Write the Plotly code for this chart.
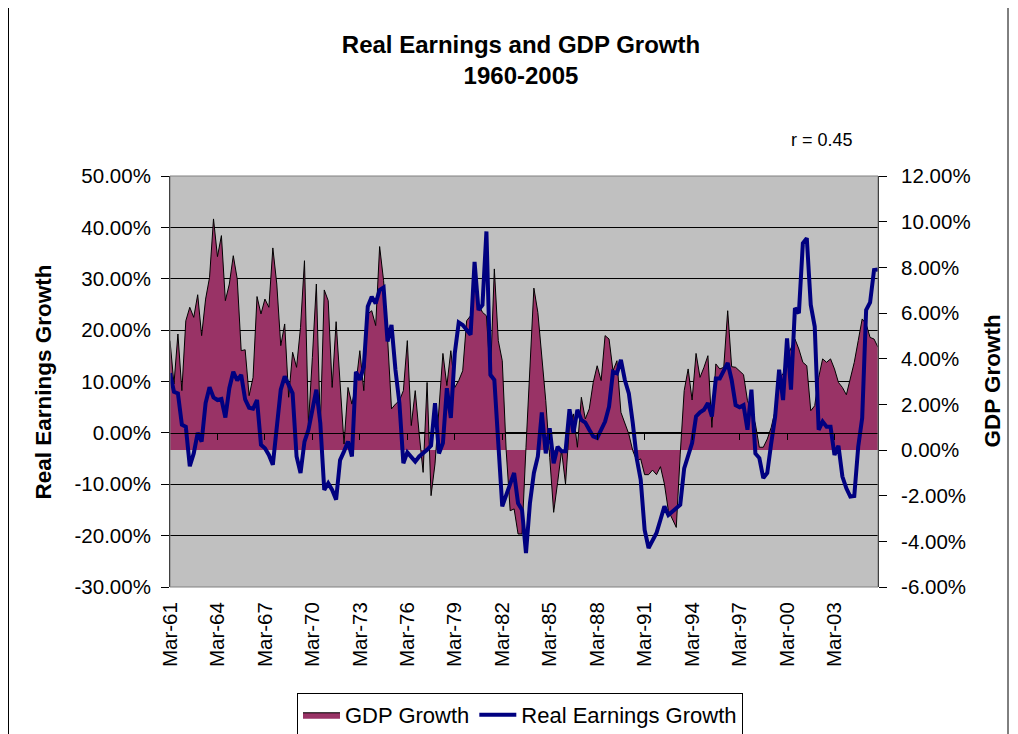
import plotly.graph_objects as go

# Quarterly index positions (Mar-61 .. Dec-05)
quarters = list(range(180))

# GDP Growth (%), right axis
gdp_growth = [
    4.79, 2.89, 5.08, 2.60, 5.66, 6.25, 5.81, 6.80, 5.01, 6.61,
    7.56, 10.12, 8.47, 9.39, 6.54, 7.27, 8.51, 7.49, 4.35, 4.39,
    2.38, 3.18, 6.72, 5.96, 6.61, 6.25, 8.85, 7.27, 4.57, 5.52,
    2.31, 4.28, 3.62, 5.37, 8.29, 1.14, 4.06, 7.27, 0.99, 7.01,
    6.54, 2.74, 5.62, 2.74, 0.26, 2.74, 2.01, 2.89, 4.35, 2.60,
    5.96, 6.10, 5.45, 8.91, 7.42, 4.93, 1.80, 2.01, 2.16, 2.60,
    4.79, 1.07, 2.60, 0.70, -0.98, 2.96, -2.00, -0.61, 2.01, 4.23,
    2.82, 4.35, 2.74, 3.04, 3.47, 5.66, 5.88, 7.85, 6.39, 6.03,
    5.88, 3.18, 7.93, 4.79, 3.91, -0.03, -2.66, -2.58, -3.68, -3.68,
    0.12, 3.62, 7.09, 6.03, 4.06, 2.16, -0.32, -2.73, -1.42, -0.03,
    -1.49, 1.14, 1.58, 0.12, 2.31, 1.36, 1.80, 2.96, 3.69, 3.04,
    5.01, 4.86, 3.47, 3.91, 1.65, 1.14, 0.70, -0.03, -0.47, -0.39,
    -1.08, -1.08, -0.88, -1.08, -0.73, -1.49, -2.66, -3.02, -3.39, -0.18,
    2.60, 3.55, 2.19, 4.23, 3.18, 3.62, 4.13, 0.99, 3.77, 3.55,
    3.62, 6.10, 3.65, 3.62, 3.47, 3.30, 2.16, 1.72, 1.14, 0.12,
    0.12, 0.48, 0.99, 1.72, 3.18, 3.33, 4.06, 4.50, 4.86, 4.42,
    3.84, 3.69, 1.72, 1.94, 3.18, 3.99, 3.84, 3.99, 3.55, 2.96,
    2.74, 2.42, 3.18, 3.84, 4.79, 5.74, 5.52, 4.93, 4.86, 4.50,
]

# Real Earnings Growth (%), left axis
earnings_growth = [
    11.6, 8.0, 7.7, 1.6, 1.2, -6.5, -4.0, 0.0, -1.7, 5.8,
    8.9, 6.9, 6.4, 6.6, 3.0, 8.7, 11.9, 10.2, 11.3, 6.5,
    4.9, 4.7, 6.4, -2.3, -3.0, -4.3, -6.2, 1.9, 8.4, 11.0,
    9.3, 7.7, -4.6, -7.8, -1.7, 0.6, 4.5, 8.4, 1.9, -11.1,
    -9.8, -11.1, -13.0, -5.3, -3.6, -1.7, -4.6, 11.9, 10.3, 12.9,
    24.6, 26.5, 25.2, 27.8, 28.3, 17.8, 21.0, 12.3, 5.8, -5.9,
    -3.8, -4.6, -5.6, -4.6, -4.0, -3.3, -2.5, 5.8, -4.0, -2.0,
    8.7, 2.9, 15.5, 21.5, 21.0, 20.0, 19.1, 33.3, 23.9, 24.9,
    39.2, 11.3, 10.3, -2.0, -14.3, -12.1, -10.1, -7.8, -13.7, -15.0,
    -23.4, -13.7, -7.8, -4.6, 4.0, -4.0, 0.9, -5.9, -2.7, -3.6,
    -3.6, 4.6, 0.0, 4.5, 2.5, 2.0, 0.6, -0.7, -1.0, 0.6,
    2.2, 5.1, 11.9, 11.6, 14.2, 10.3, 7.7, 1.9, -5.0, -9.1,
    -18.9, -22.4, -20.8, -19.5, -16.9, -14.3, -16.0, -15.3, -14.7, -14.0,
    -6.9, -4.6, -2.0, 3.2, 4.0, 4.5, 5.8, 3.2, 10.6, 10.6,
    12.3, 13.6, 10.3, 5.4, 5.0, 5.4, 0.6, 8.4, -4.0, -4.9,
    -8.8, -7.8, -2.0, 3.2, 12.3, 6.4, 18.4, 8.4, 24.3, 23.3,
    36.9, 37.9, 24.9, 20.7, 0.6, 2.2, 1.2, 1.2, -4.3, -2.5,
    -8.5, -10.8, -12.4, -12.3, -2.7, 2.9, 23.9, 25.4, 31.7, 31.8,
]

x_tick_positions = [0, 12, 24, 36, 48, 60, 72, 84, 96, 108, 120, 132, 144, 156, 168]
x_tick_labels = ["Mar-61", "Mar-64", "Mar-67", "Mar-70", "Mar-73", "Mar-76", "Mar-79",
                 "Mar-82", "Mar-85", "Mar-88", "Mar-91", "Mar-94", "Mar-97", "Mar-00", "Mar-03"]

left_tick_values = [-30, -20, -10, 0, 10, 20, 30, 40, 50]
left_tick_labels = ["-30.00%", "-20.00%", "-10.00%", "0.00%", "10.00%", "20.00%",
                    "30.00%", "40.00%", "50.00%"]
right_tick_values = [-6, -4, -2, 0, 2, 4, 6, 8, 10, 12]
right_tick_labels = ["-6.00%", "-4.00%", "-2.00%", "0.00%", "2.00%", "4.00%",
                     "6.00%", "8.00%", "10.00%", "12.00%"]

FONT = "Liberation Sans, Arial, sans-serif"
OFF = 8  # page body margin of the browser
W, H = 1018 - OFF, 734 - OFF
L, R, T, B = 170 - OFF, 140, 176 - OFF, 147
PW, PH = W - L - R, H - T - B


def px_x(p):
    # page x pixel -> paper x
    return (p - OFF - L) / PW


def px_y(p):
    # page y pixel -> paper y
    return (OFF + H - B - p) / PH


fig = go.Figure()

fig.add_trace(go.Scatter(
    x=quarters, y=gdp_growth, name="GDP Growth",
    mode="lines", fill="tozeroy", fillcolor="#993366",
    line=dict(color="#000000", width=1),
    xaxis="x", yaxis="y",
))

fig.add_trace(go.Scatter(
    x=quarters, y=earnings_growth, name="Real Earnings Growth",
    mode="lines", line=dict(color="#000080", width=4),
    xaxis="x2", yaxis="y2",
))

zero_pos = (0 - left_tick_values[0]) / (left_tick_values[-1] - left_tick_values[0])

fig.update_layout(
    width=W, height=H,
    margin=dict(l=L, r=R, t=T, b=B, autoexpand=False),
    paper_bgcolor="#FFFFFF",
    plot_bgcolor="#C0C0C0",
    font=dict(family=FONT, size=20, color="#000000"),
    title=dict(
        text="<b>Real Earnings and GDP Growth</b><br><b>1960-2005</b>",
        font=dict(family=FONT, size=24, color="#000000"),
        xref="paper", x=px_x(521), xanchor="center",
        yref="container", y=1 - (52.5 - OFF) / H, yanchor="middle",
    ),
    xaxis=dict(
        range=[0, 179], tickmode="array", tickvals=x_tick_positions,
        ticktext=x_tick_labels, tickangle=-90, ticks="", showgrid=False,
        zeroline=False, showline=False, automargin=False,
        ticklabelstandoff=10,
        tickfont=dict(family=FONT, size=20.5),
    ),
    xaxis2=dict(
        range=[0, 179], overlaying="x", anchor="free", position=zero_pos,
        tickmode="array", tickvals=x_tick_positions[1:], ticks="outside",
        ticklen=6, tickcolor="#000000", showticklabels=False, showgrid=False,
        zeroline=False, showline=True, linecolor="#000000", linewidth=1,
    ),
    yaxis=dict(
        range=[right_tick_values[0], right_tick_values[-1]], side="right",
        tickmode="array", tickvals=right_tick_values, ticktext=right_tick_labels,
        ticks="outside", ticklen=8, tickcolor="#000000",
        showline=True, linecolor="#000000", linewidth=1,
        showgrid=False, zeroline=False, automargin=False,
        ticklabelstandoff=10,
        tickfont=dict(family=FONT, size=20.5),
    ),
    yaxis2=dict(
        range=[left_tick_values[0], left_tick_values[-1]], side="left",
        overlaying="y", anchor="x",
        tickmode="array", tickvals=left_tick_values, ticktext=left_tick_labels,
        ticks="outside", ticklen=8, tickcolor="#000000",
        showline=True, linecolor="#000000", linewidth=1,
        showgrid=True, gridcolor="#000000", gridwidth=1,
        zeroline=False, automargin=False,
        ticklabelstandoff=6,
        tickfont=dict(family=FONT, size=20.5),
    ),
    legend=dict(
        orientation="h", x=px_x(297), y=px_y(693), xanchor="left", yanchor="top",
        bordercolor="#000000", borderwidth=1, bgcolor="#FFFFFF",
        font=dict(family=FONT, size=22, color="#000000"),
        traceorder="normal", itemwidth=37,
    ),
    showlegend=True,
    annotations=[
        dict(text="<b>Real Earnings Growth</b>", xref="paper", yref="paper",
             x=px_x(43), y=0.5, textangle=-90, showarrow=False,
             xanchor="center", yanchor="middle",
             font=dict(family=FONT, size=22.5, color="#000000")),
        dict(text="<b>GDP Growth</b>", xref="paper", yref="paper",
             x=px_x(992), y=0.5, textangle=-90, showarrow=False,
             xanchor="center", yanchor="middle",
             font=dict(family=FONT, size=22.5, color="#000000")),
        dict(text="r = 0.45", xref="paper", yref="paper",
             x=px_x(822), y=px_y(140), showarrow=False,
             xanchor="center", yanchor="middle",
             font=dict(family=FONT, size=18, color="#000000")),
    ],
    shapes=[
        dict(type="rect", xref="paper", yref="paper", x0=0, x1=1, y0=0, y1=1,
             line=dict(color="#808080", width=1), fillcolor="rgba(0,0,0,0)",
             layer="above"),
        dict(type="rect", xref="paper", yref="paper",
             x0=px_x(8.5), x1=px_x(1008), y0=px_y(745), y1=px_y(-5),
             line=dict(color="#000000", width=1), fillcolor="rgba(0,0,0,0)",
             layer="below"),
    ],
)

fig.write_html("out.html")
